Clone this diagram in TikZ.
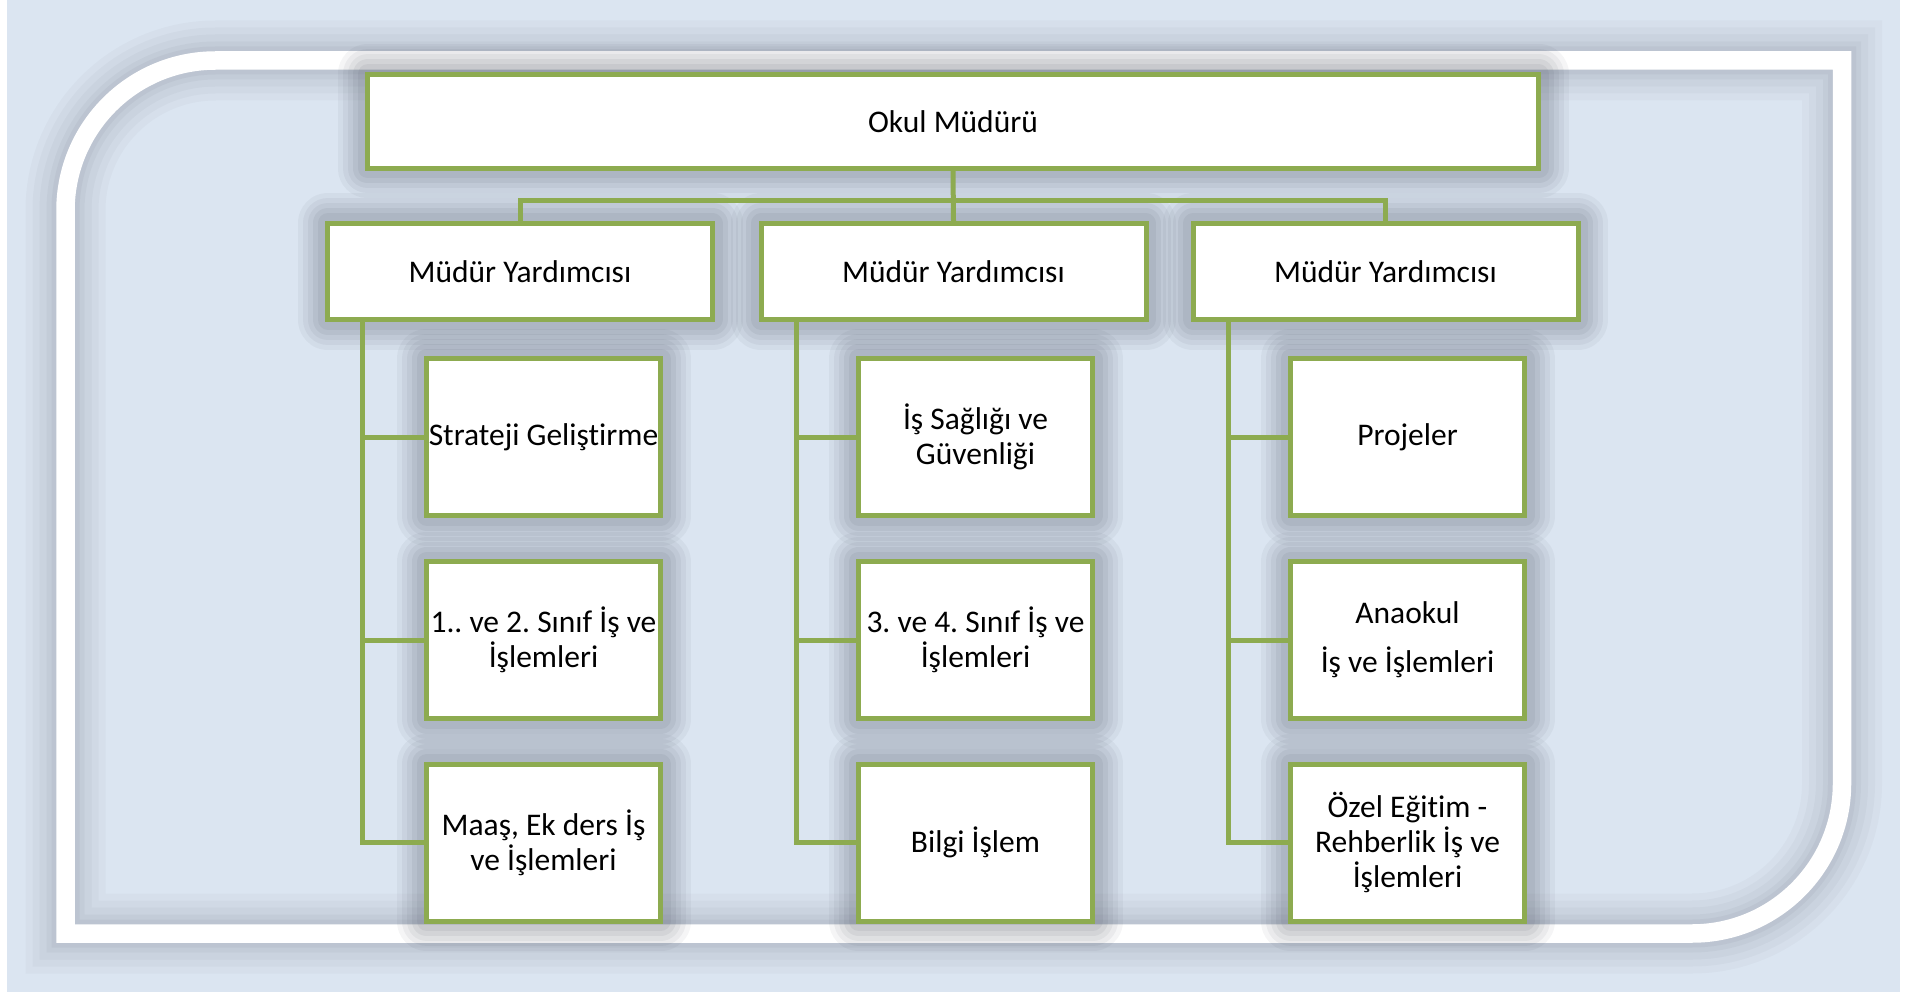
\documentclass[tikz,border=0pt]{standalone}
\usepackage{fontspec}
\setmainfont[Ligatures=NoCommon]{Carlito}
\usetikzlibrary{positioning}
\definecolor{olivegreen}{RGB}{141,171,80}
\definecolor{paleblue}{RGB}{219,229,241}
\definecolor{shadowgray}{RGB}{60,66,80}
\frenchspacing

\tikzset{
  glow/.style={
    preaction={draw=shadowgray, line width=60pt, draw opacity=0.05, line join=round},
    preaction={draw=shadowgray, line width=50pt, draw opacity=0.06, line join=round},
    preaction={draw=shadowgray, line width=40pt, draw opacity=0.06, line join=round},
    preaction={draw=shadowgray, line width=30pt, draw opacity=0.07, line join=round},
    preaction={draw=shadowgray, line width=20pt, draw opacity=0.07, line join=round}},
  frameglow/.style={
    preaction={draw=shadowgray, line width=80pt, draw opacity=0.03},
    preaction={draw=shadowgray, line width=66pt, draw opacity=0.035},
    preaction={draw=shadowgray, line width=52pt, draw opacity=0.04},
    preaction={draw=shadowgray, line width=38pt, draw opacity=0.045},
    preaction={draw=shadowgray, line width=28pt, draw opacity=0.05}},
  box/.style={glow, draw=olivegreen, line width=5pt, fill=white, inner sep=0pt,
    align=center, font=\fontsize{31.5}{35}\selectfont},
  bossbox/.style={box, minimum width=1171pt, minimum height=94pt},
  depbox/.style={box, minimum width=385pt, minimum height=96pt},
  unitbox/.style={box, minimum width=234pt, minimum height=157pt},
  link/.style={draw=olivegreen, line width=5pt},
}

\begin{document}
\begin{tikzpicture}[x=1pt, y=-1pt]
  \useasboundingbox (0,0) rectangle (1914,992);
  % background and white frame
  \fill[paleblue] (7,0) rectangle (1900,992);
  \draw[frameglow, white, line width=18.5pt]
    (65.5,933.5) -- (65.5,210.5) .. controls (65.5,127.7) and (132.7,60.5) .. (215.5,60.5)
    -- (1842,60.5) -- (1842,783.5) .. controls (1842,866.3) and (1774.8,933.5) .. (1692,933.5)
    -- cycle;

  % head
  \node[bossbox] (boss) at (953,121.5) {Okul Müdürü};

  % deputies
  \node[depbox] (dep1) at (520,271.5) {Müdür Yardımcısı};
  \node[depbox] (dep2) at (953.5,271.5) {Müdür Yardımcısı};
  \node[depbox] (dep3) at (1385.5,271.5) {Müdür Yardımcısı};

  % units, first deputy
  \node[unitbox] (s11) at (543.5,437) {Strateji Geliştirme};
  \node[unitbox] (s12) at (543.5,640) {1.. ve 2. Sınıf İş ve\\İşlemleri};
  \node[unitbox] (s13) at (543.5,842.5) {Maaş, Ek ders İş\\ve İşlemleri};

  % units, second deputy
  \node[unitbox] (s21) at (975.5,437) {İş Sağlığı ve\\Güvenliği};
  \node[unitbox] (s22) at (975.5,640) {3. ve 4. Sınıf İş ve\\İşlemleri};
  \node[unitbox] (s23) at (975.5,842.5) {Bilgi İşlem};

  % units, third deputy
  \node[unitbox] (s31) at (1407.5,437) {Projeler};
  \node[unitbox] (s32) at (1407.5,640) {Anaokul\\[14pt]İş ve İşlemleri};
  \node[unitbox] (s33) at (1407.5,842.5) {Özel Eğitim -\\Rehberlik İş ve\\İşlemleri};

  % head to deputies
  \coordinate (hub) at (953,200.5);
  \draw[link] (boss.south) -- (dep2.north);
  \draw[link] (dep1.north) |- (hub) -| (dep3.north);

  % deputies to units
  \coordinate (t1) at ([xshift=37.5pt]dep1.south west);
  \coordinate (t2) at ([xshift=37.5pt]dep2.south west);
  \coordinate (t3) at ([xshift=37.5pt]dep3.south west);
  \draw[link] (t1) |- (s13.west);
  \draw[link] (t1 |- s11.west) -- (s11.west);
  \draw[link] (t1 |- s12.west) -- (s12.west);
  \draw[link] (t2) |- (s23.west);
  \draw[link] (t2 |- s21.west) -- (s21.west);
  \draw[link] (t2 |- s22.west) -- (s22.west);
  \draw[link] (t3) |- (s33.west);
  \draw[link] (t3 |- s31.west) -- (s31.west);
  \draw[link] (t3 |- s32.west) -- (s32.west);
\end{tikzpicture}
\end{document}
